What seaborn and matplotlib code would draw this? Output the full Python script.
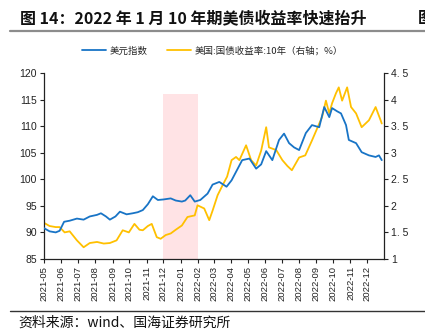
import matplotlib
matplotlib.use("Agg")
import matplotlib.pyplot as plt
import matplotlib.dates as mdates
from matplotlib.lines import Line2D
import pandas as pd
import seaborn as sns

# ---------------- data ----------------
usd_dates = ["2021-05-01", "2021-05-11", "2021-05-22", "2021-05-29", "2021-06-06", "2021-06-16",
             "2021-06-29", "2021-07-11", "2021-07-22", "2021-08-04", "2021-08-11", "2021-08-20",
             "2021-08-27", "2021-09-06", "2021-09-14", "2021-09-26", "2021-10-07", "2021-10-16",
             "2021-10-25", "2021-11-03", "2021-11-12", "2021-11-21", "2021-12-01", "2021-12-14",
             "2021-12-23", "2022-01-03", "2022-01-09", "2022-01-18", "2022-01-26", "2022-02-05",
             "2022-02-18", "2022-02-27", "2022-03-11", "2022-03-24", "2022-04-02", "2022-04-10",
             "2022-04-21", "2022-05-04", "2022-05-16", "2022-05-25", "2022-06-03", "2022-06-14",
             "2022-06-26", "2022-07-05", "2022-07-14", "2022-07-23", "2022-08-01", "2022-08-13",
             "2022-08-24", "2022-09-06", "2022-09-15", "2022-09-24", "2022-09-29", "2022-10-08",
             "2022-10-15", "2022-10-24", "2022-10-29", "2022-11-11", "2022-11-21", "2022-12-04",
             "2022-12-16", "2022-12-22", "2022-12-27"]
usd_index = [90.8, 90.2, 90.0, 90.3, 92.0, 92.2,
             92.6, 92.4, 93.0, 93.3, 93.6, 93.0,
             92.4, 93.0, 93.9, 93.4, 93.6, 93.8,
             94.2, 95.3, 96.8, 96.1, 96.2, 96.4,
             96.0, 95.8, 96.0, 97.0, 95.8, 96.1,
             97.3, 99.0, 99.5, 98.6, 99.8, 101.4,
             103.6, 103.9, 102.0, 102.8, 105.3, 103.6,
             107.4, 108.6, 106.8, 106.0, 105.5, 108.7,
             110.2, 109.8, 113.6, 111.7, 113.4, 112.8,
             112.4, 110.2, 107.4, 106.8, 105.1, 104.5,
             104.2, 104.5, 103.6]

yld_dates = ["2021-05-01", "2021-05-11", "2021-05-22", "2021-05-29", "2021-06-07", "2021-06-16",
             "2021-06-29", "2021-07-11", "2021-07-22", "2021-08-04", "2021-08-16", "2021-08-27",
             "2021-09-08", "2021-09-19", "2021-09-30", "2021-10-10", "2021-10-19", "2021-10-25",
             "2021-11-03", "2021-11-10", "2021-11-19", "2021-11-26", "2021-12-05", "2021-12-14",
             "2021-12-23", "2022-01-03", "2022-01-13", "2022-01-26", "2022-01-31", "2022-02-12",
             "2022-02-21", "2022-02-27", "2022-03-08", "2022-03-17", "2022-03-25", "2022-04-02",
             "2022-04-10", "2022-04-16", "2022-04-28", "2022-05-07", "2022-05-16", "2022-05-25",
             "2022-06-03", "2022-06-08", "2022-06-21", "2022-07-02", "2022-07-11", "2022-07-19",
             "2022-08-01", "2022-08-12", "2022-08-24", "2022-09-02", "2022-09-11", "2022-09-18",
             "2022-09-24", "2022-09-29", "2022-10-06", "2022-10-11", "2022-10-17", "2022-10-26",
             "2022-11-02", "2022-11-11", "2022-11-21", "2022-12-04", "2022-12-16", "2022-12-25",
             "2022-12-27"]
us10y = [1.68, 1.62, 1.60, 1.60, 1.50, 1.52,
         1.35, 1.22, 1.30, 1.32, 1.29, 1.30,
         1.35, 1.54, 1.50, 1.66, 1.55, 1.54,
         1.62, 1.66, 1.41, 1.38, 1.45, 1.48,
         1.55, 1.63, 1.79, 1.82, 2.01, 1.95,
         1.73, 1.91, 2.20, 2.39, 2.55, 2.86,
         2.92, 2.86, 3.14, 2.86, 2.76, 3.04,
         3.48, 3.10, 3.05, 2.86, 2.75, 2.67,
         2.91, 2.95, 3.23, 3.45, 3.67, 3.98,
         3.74, 3.93, 4.12, 4.23, 3.98, 4.23,
         3.86, 3.74, 3.48, 3.61, 3.86, 3.61,
         3.55]

shade_start, shade_end, shade_top = "2021-12-01", "2022-01-31", 116

title = "图 14：2022 年 1 月 10 年期美债收益率快速抬升"
legend_labels = ["美元指数", "美国:国债收益率:10年（右轴；%）"]
source = "资料来源：wind、国海证券研究所"
left_ticks = [85, 90, 95, 100, 105, 110, 115, 120]
right_ticks = [1, 1.5, 2, 2.5, 3, 3.5, 4, 4.5]

# ---------------- style ----------------
sns.set_theme(style="white")
plt.rcParams['font.family'] = ['Liberation Sans', 'Noto Sans CJK SC', 'DejaVu Sans']
CJK = ["Noto Sans CJK SC", "DejaVu Sans"]
BLUE = "#1874C6"
GOLD = "#FFC000"

df_usd = pd.DataFrame({"date": pd.to_datetime(usd_dates), "v": usd_index})
df_yld = pd.DataFrame({"date": pd.to_datetime(yld_dates), "v": us10y})

fig = plt.figure(figsize=(4.25, 3.35), dpi=100)
ax = fig.add_axes([0.1035, 0.227, 0.80, 0.555])
ax2 = ax.twinx()

# shaded window (drawn on the lower axes so both lines stay on top of it)
ax2.axvspan(pd.Timestamp(shade_start), pd.Timestamp(shade_end), ymin=0,
            ymax=(shade_top - left_ticks[0]) / (left_ticks[-1] - left_ticks[0]),
            color="#FFE3E5", lw=0, zorder=0)

sns.lineplot(data=df_usd, x="date", y="v", ax=ax, color=BLUE, lw=1.3, zorder=3)
sns.lineplot(data=df_yld, x="date", y="v", ax=ax2, color=GOLD, lw=1.3, zorder=2)

ax.set_ylim(left_ticks[0], left_ticks[-1])
ax2.set_ylim(right_ticks[0], right_ticks[-1])
ax.set_yticks(left_ticks)
ax2.set_yticks(right_ticks)
ax2.set_yticklabels([("%g" % t).replace(".", ". ") for t in right_ticks])
ax.set_xlim(pd.Timestamp("2021-05-01"), pd.Timestamp("2022-12-31"))
ax.xaxis.set_major_locator(mdates.MonthLocator())
ax.xaxis.set_major_formatter(mdates.DateFormatter("%Y-%m"))
for lab in ax.get_xticklabels():
    lab.set_rotation(90)

for a in (ax, ax2):
    a.set_xlabel("")
    a.set_ylabel("")
    a.grid(False)
    a.spines["top"].set_visible(False)
    for s in ("left", "right", "bottom"):
        a.spines[s].set_color("#222222")
        a.spines[s].set_linewidth(0.9)
ax.spines["right"].set_visible(False)
ax2.spines["left"].set_visible(False)
ax2.spines["bottom"].set_visible(False)

ax.tick_params(axis="y", which="major", left=True, direction="out", length=3, width=0.8,
               labelsize=7.5, colors="#222222", pad=2)
ax.tick_params(axis="x", which="major", bottom=True, direction="out", length=3, width=0.8,
               labelsize=6.8, colors="#222222", pad=2)
ax2.tick_params(axis="y", which="major", right=True, direction="out", length=3, width=0.8,
                labelsize=7.5, colors="#222222", pad=2)
ax.set_zorder(ax2.get_zorder() + 1)
ax.patch.set_visible(False)

# legend
handles = [Line2D([], [], color=BLUE, lw=1.3), Line2D([], [], color=GOLD, lw=1.3)]
fig.legend(handles, legend_labels, loc="center", bbox_to_anchor=(0.5, 0.848), ncol=2,
           frameon=False, handlelength=2.6, columnspacing=2.0,
           handletextpad=0.4, prop={"family": CJK, "size": 6.8})

# title & decorations
fig.text(0.047, 0.946, title, fontsize=11.5, fontweight="bold", ha="left", va="center",
         family=CJK, color="#111111")
fig.text(0.983, 0.946, "图", fontsize=11.5, fontweight="bold", ha="left", va="center",
         family=CJK, color="#111111")
fig.add_artist(Line2D([0.024, 1.0], [0.907, 0.907], transform=fig.transFigure,
                      color="#8c8c8c", lw=1.6))
fig.add_artist(Line2D([0.024, 1.0], [0.072, 0.072], transform=fig.transFigure,
                      color="#333333", lw=1.0))
fig.text(0.044, 0.038, source, fontsize=10, ha="left", va="center",
         family=CJK, color="#111111")

fig.savefig("out.png", dpi=100)
